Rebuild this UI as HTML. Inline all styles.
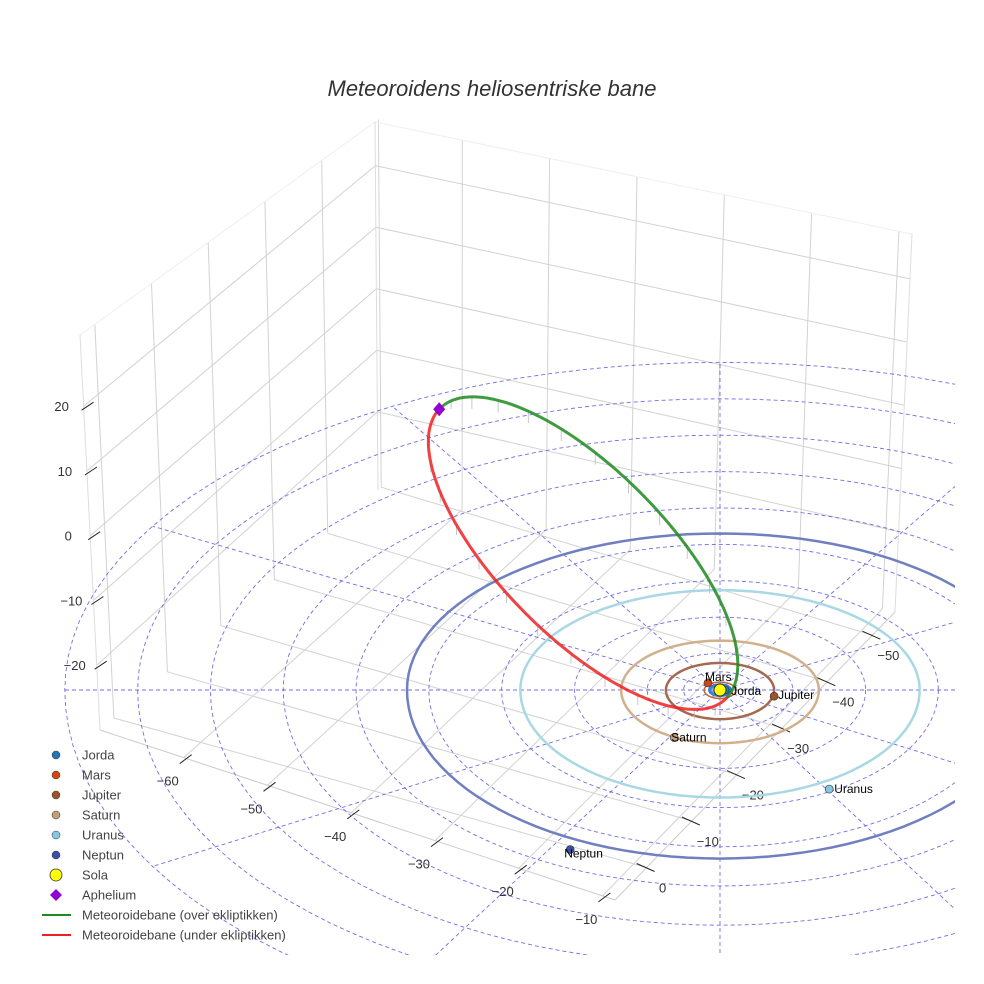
<!DOCTYPE html>
<html><head><meta charset="utf-8"><style>
html,body{margin:0;padding:0;background:#fff;width:984px;height:984px;overflow:hidden;}
svg{display:block;font-family:"Liberation Sans",sans-serif;overflow:hidden;}
</style></head><body>
<svg id="chart" width="984" height="984" viewBox="0 0 984 984">
<rect width="984" height="984" fill="#fff"/>
<text x="492" y="96" text-anchor="middle" font-size="22" font-style="italic" fill="#333">Meteoroidens heliosentriske bane</text>
<defs><clipPath id="eclip"><rect x="0" y="300" width="955" height="655"/></clipPath></defs>
<g id="box"></g>
<g id="ecl" clip-path="url(#eclip)"></g>
<g id="orbits" clip-path="url(#eclip)"></g>
<g id="meteor"></g>
<g id="planets"></g>
<g id="legend"></g>
</svg>
<script>
// axis ticks
const xTicks=[-50,-40,-30,-20,-10,0];
const yTicks=[-60,-50,-40,-30,-20,-10];
const zTicks=[-20,-10,0,10,20];
// ecliptic grid
const ringRadii=[3.5,7,14,21,28,35,42,49,56,63];
const spokeAngles=[0,30,60,90,120,150,180,210,240,270,300,330];
// planet orbits (AU)
const planetNames=["Jorda","Mars","Jupiter","Saturn","Uranus","Neptun"];
const orbitRadii=[1.0,1.52,5.2,9.5,19.2,30.1];
const planetX=[0.5,-1.15,5.2,-4.4,10.5,-14.4];
const planetY=[0.0,-1.35,1.1,8.5,17.7,28.5];
// meteoroid orbit elements
const aphelion=[-27,-54,0];
const perihelionDist=[1.5];
const inclinationDeg=[50];

const NS="http://www.w3.org/2000/svg";
function mk(tag,attrs,parent){const e=document.createElementNS(NS,tag);for(const k in attrs)e.setAttribute(k,attrs[k]);parent.appendChild(e);return e;}

// ---- box projection (with simple perspective: ranges differ back/front) ----
const XRb=[-49.4,2.6],XRf=[-55,7];
const YR=[-70,-8.5];
const ZRb=[-32.7,27.1],ZRl=[-30,31];
const B0=[378,490],L0=[100,730],R0=[895,612],F0=[615,900];
const VB=[-3,-368],VL=[-20,-395],VR=[17,-378],VF=[0,-420];
function bil(a,b,c,d,fx,fy,i){return a[i]*(1-fx)*(1-fy)+b[i]*fx*(1-fy)+c[i]*(1-fx)*fy+d[i]*fx*fy;}
function C(fx,fy,fz){return [bil(B0,L0,R0,F0,fx,fy,0)+fz*bil(VB,VL,VR,VF,fx,fy,0), bil(B0,L0,R0,F0,fx,fy,1)+fz*bil(VB,VL,VR,VF,fx,fy,1)];}
const box=document.getElementById('box');
function seg(a,b,col,w,name,parent){const l=mk('line',{x1:a[0].toFixed(1),y1:a[1].toFixed(1),x2:b[0].toFixed(1),y2:b[1].toFixed(1),stroke:col,'stroke-width':w},parent);
 
 return l;}
const G='#d2d2d2';
xTicks.forEach(x=>{
 const fb=(x-XRb[0])/(XRb[1]-XRb[0]), ff=(x-XRf[0])/(XRf[1]-XRf[0]);
 seg(C(fb,0,0),C(fb,0,1),G,1,'wall-gridline-x',box);
 seg(C(fb,0,0),C(ff,1,0),G,1,'floor-gridline-x',box);});
yTicks.forEach(y=>{const fy=(y-YR[0])/(YR[1]-YR[0]);
 seg(C(0,fy,0),C(0,fy,1),G,1,'wall-gridline-y',box);
 seg(C(0,fy,0),C(1,fy,0),G,1,'floor-gridline-y',box);});
zTicks.forEach(z=>{const fb=(z-ZRb[0])/(ZRb[1]-ZRb[0]), fl=(z-ZRl[0])/(ZRl[1]-ZRl[0]);
 seg(C(0,0,fb),C(1,0,fl),G,1,'wall-gridline-z',box);
 seg(C(0,0,fb),C(0,1,fb),G,1,'wall-gridline-z',box);});
// box edges
seg(C(0,0,1),C(1,0,1),'#eee',1,'box-edge',box);
seg(C(0,0,1),C(0,1,1),'#eee',1,'box-edge',box);
seg(C(0,0,0),C(0,0,1),'#ddd',1,'box-edge',box);
seg(C(1,0,0),C(1,0,1),'#ddd',1,'box-edge',box);
seg(C(0,1,0),C(0,1,1),'#ddd',1,'box-edge',box);
seg(C(1,0,0),C(1,1,0),'#ccc',1,'box-edge',box);
seg(C(0,1,0),C(1,1,0),'#ccc',1,'box-edge',box);
function lab(txt,p,dx,dy,name){const t=mk('text',{x:(p[0]+dx).toFixed(1),y:(p[1]+dy).toFixed(1),'text-anchor':'middle','font-size':13,fill:'#333'},box);t.textContent=txt;
 
 }
function fmt(v){return v<0?'\u2212'+Math.abs(v):String(v);}
zTicks.forEach(z=>{const fl=(z-ZRl[0])/(ZRl[1]-ZRl[0]);const p=C(1,0,fl);seg([p[0]-2,p[1]+4],[p[0]+10,p[1]-4],'#222',1,'z-tick',box);lab(fmt(z),p,-22,5,'z-tick-label');});
yTicks.forEach(y=>{const fy=(y-YR[0])/(YR[1]-YR[0]);const p=C(1,fy,0);seg([p[0]-4,p[1]+6],[p[0]+8,p[1]-3],'#222',1,'y-tick',box);lab(fmt(y),p,-16,28,'y-tick-label');});
xTicks.forEach(x=>{const ff=(x-XRf[0])/(XRf[1]-XRf[0]);const p=C(ff,1,0);seg([p[0]-10,p[1]-4],[p[0]+8,p[1]+4],'#222',1,'x-tick',box);lab(fmt(x),p,16,25,'x-tick-label');});

// ---- ecliptic projection ----
const SX=720,SY=690,KX=10.4,KYF=5.6,KYB=5.2,KZ=6.4;
function E(X,Y,Z){return [SX+KX*X, SY+(Y>0?KYF:KYB)*Y-KZ*(Z||0)];}
const ecl=document.getElementById('ecl');
function ringPath(r){let d='';for(let k=0;k<=120;k++){const t=k/120*2*Math.PI;const p=E(r*Math.cos(t),r*Math.sin(t),0);d+=(k?'L':'M')+p[0].toFixed(1)+','+p[1].toFixed(1);}return d;}
ringRadii.forEach(r=>{const e=mk('path',{d:ringPath(r),fill:'none',stroke:'#5a55e0','stroke-width':0.9,'stroke-dasharray':'4,3',opacity:0.85},ecl);
 
 });
spokeAngles.forEach(a=>{const t=a*Math.PI/180;const R=ringRadii[ringRadii.length-1];const p=E(R*Math.cos(t),R*Math.sin(t),0);
 const e=mk('line',{x1:SX,y1:SY,x2:p[0].toFixed(1),y2:p[1].toFixed(1),stroke:'#5a55e0','stroke-width':0.9,'stroke-dasharray':'4,3',opacity:0.85},ecl);
 
 });

const orbitCols=['#3d7fd0','#c8643c','#a5694f','#d2b08c','#a8d8e4','#6f7fbf'];
const orbitW=[3,1.5,2.5,2.5,2.5,2.5];
const og=document.getElementById('orbits');
orbitRadii.forEach((r,i)=>{const e=mk('path',{d:ringPath(r),fill:i==0?'#7fb0e8':'none',stroke:orbitCols[i],'stroke-width':orbitW[i]},og);
 
 });

// ---- meteoroid orbit ----
const mg=document.getElementById('meteor');
(function(){
 const A=aphelion,q=perihelionDist[0],inc=inclinationDeg[0]*Math.PI/180;
 const Q=Math.hypot(A[0],A[1],A[2]);const u=[A[0]/Q,A[1]/Q,A[2]/Q];
 const a=(Q+q)/2,e=(Q-q)/(Q+q),b=a*Math.sqrt(1-e*e);
 const c=[u[0]*(a-q),u[1]*(a-q),0];const d=[-u[0],-u[1],0];
 const perp=[-u[1],u[0],0];
 const w=[perp[0]*Math.cos(inc),perp[1]*Math.cos(inc),Math.sin(inc)];
 function pt(Ea){return [c[0]+a*Math.cos(Ea)*d[0]+b*Math.sin(Ea)*w[0],c[1]+a*Math.cos(Ea)*d[1]+b*Math.sin(Ea)*w[1],a*Math.cos(Ea)*d[2]+b*Math.sin(Ea)*w[2]];}
 const N=200;let g='',r='';
 for(let k=0;k<=N;k++){const Ea=k/N*Math.PI;const p=pt(Ea);const s=E(p[0],p[1],p[2]);g+=(k?'L':'M')+s[0].toFixed(1)+','+s[1].toFixed(1);
  if(k%14==7){const f=E(p[0],p[1],0);seg(s,[s[0],s[1]+Math.min(12,f[1]-s[1])],'#bbb',0.8,'drop-line',mg);}}
 for(let k=0;k<=N;k++){const Ea=Math.PI+k/N*Math.PI;const p=pt(Ea);const s=E(p[0],p[1],p[2]);r+=(k?'L':'M')+s[0].toFixed(1)+','+s[1].toFixed(1);
  if(k%14==7){seg(s,[s[0],s[1]+10],'#bbb',0.8,'drop-line',mg);}}
 const gp=mk('path',{d:g,fill:'none',stroke:'#1f8a1f','stroke-width':3,opacity:0.85},mg);
 
 
 const rp=mk('path',{d:r,fill:'none',stroke:'#ee2020','stroke-width':3,opacity:0.85},mg);
 
 
 const s=E(A[0],A[1],A[2]);
 const dm=mk('path',{d:`M${s[0]},${s[1]-7}L${s[0]+6},${s[1]}L${s[0]},${s[1]+7}L${s[0]-6},${s[1]}Z`,fill:'#9400d3'},mg);
 
 
})();

// ---- planets ----
const pg=document.getElementById('planets');
const pCols=['#1f77b4','#d2460f','#a0522d','#c4a079','#87c8e0','#3b4fa8'];
const labOff=[[6,5],[-3,-2],[4,3],[-3,4],[5,4],[-6,8]];
planetNames.forEach((n,i)=>{const p=E(planetX[i],planetY[i],0);
 const c=mk('circle',{cx:p[0].toFixed(1),cy:p[1].toFixed(1),r:4,fill:pCols[i],stroke:'#333','stroke-width':0.6},pg);
 
 
 const t=mk('text',{x:(p[0]+labOff[i][0]).toFixed(1),y:(p[1]+labOff[i][1]).toFixed(1),'font-size':12,fill:'#000'},pg);t.textContent=n;
 
 });
const sun=mk('circle',{cx:SX,cy:SY,r:6,fill:'#ffff00',stroke:'#333','stroke-width':1},pg);



// ---- legend ----
const lg=document.getElementById('legend');
const legNames=["Jorda","Mars","Jupiter","Saturn","Uranus","Neptun","Sola","Aphelium","Meteoroidebane (over ekliptikken)","Meteoroidebane (under ekliptikken)"];
const legCols=['#1f77b4','#d2460f','#a0522d','#c4a079','#87c8e0','#3b4fa8','#ffff00','#9400d3','#1f8a1f','#ee2020'];
legNames.forEach((n,i)=>{const y=755+20*i;
 const g=mk('g',{},lg);
 
 
 if(i<6)mk('circle',{cx:56,cy:y,r:4,fill:legCols[i],stroke:'#333','stroke-width':0.5},g);
 else if(i==6)mk('circle',{cx:56,cy:y,r:6,fill:legCols[i],stroke:'#333','stroke-width':0.8},g);
 else if(i==7)mk('path',{d:`M56,${y-6}L62,${y}L56,${y+6}L50,${y}Z`,fill:legCols[i]},g);
 else mk('line',{x1:42,y1:y,x2:71,y2:y,stroke:legCols[i],'stroke-width':2},g);
 const t=mk('text',{x:82,y:y+4.5,'font-size':13,fill:'#444'},g);t.textContent=n;});
</script>
</body></html>
